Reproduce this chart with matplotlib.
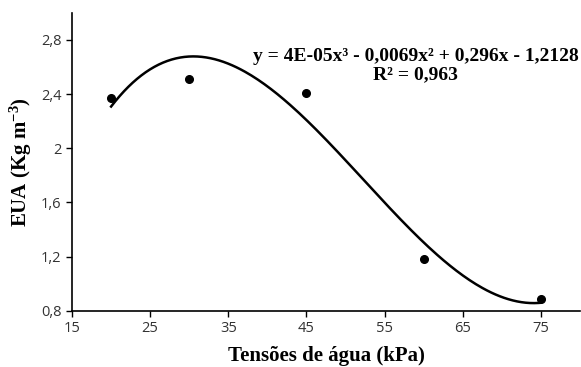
import numpy as np
import matplotlib
matplotlib.use("Agg")
import matplotlib.pyplot as plt

# data
tensao = [20, 30, 45, 60, 75]
eua = [2.37, 2.51, 2.41, 1.18, 0.89]
x_ticks = [15, 25, 35, 45, 55, 65, 75]
y_ticks = [0.8, 1.2, 1.6, 2.0, 2.4, 2.8]
y_tick_labels = ["0,8", "1,2", "1,6", "2", "2,4", "2,8"]
eq_text = "y = 4E-05x³ - 0,0069x² + 0,296x - 1,2128\nR² = 0,963"

plt.rcParams["mathtext.fontset"] = "custom"
plt.rcParams["mathtext.rm"] = "Liberation Serif:bold"
plt.rcParams["mathtext.it"] = "Liberation Serif:bold"
plt.rcParams["mathtext.bf"] = "Liberation Serif:bold"

fig = plt.figure(figsize=(5.81, 3.67), dpi=100)
ax = fig.add_axes([0.124, 0.153, 0.874, 0.812])

# cubic trendline fitted to the points
coef = np.polyfit(tensao, eua, 3)
xs = np.linspace(min(tensao), max(tensao), 200)
ax.plot(xs, np.polyval(coef, xs), color="black", lw=1.8)
ax.plot(tensao, eua, "o", color="black", ms=5.5)

ax.set_xlim(15, 80)
ax.set_ylim(0.8, 3.0)
ax.set_xticks(x_ticks)
ax.set_yticks(y_ticks)
ax.set_yticklabels(y_tick_labels)
for lbl in ax.get_xticklabels() + ax.get_yticklabels():
    lbl.set_fontfamily("Open Sans")
    lbl.set_fontsize(10.5)
    lbl.set_color("#333333")
ax.tick_params(direction="out", length=4, width=1, color="black")

ax.spines["top"].set_visible(False)
ax.spines["right"].set_visible(False)
ax.spines["left"].set_linewidth(1.2)
ax.spines["bottom"].set_linewidth(1.2)

ax.set_xlabel("Tensões de água (kPa)", fontfamily="Liberation Serif",
              fontweight="bold", fontsize=15, labelpad=7)
ax.set_ylabel("EUA (Kg m$^{-3}$)", fontfamily="Liberation Serif",
              fontweight="bold", fontsize=15, labelpad=5)

ax.text(0.677, 0.822, eq_text, transform=ax.transAxes, ha="center", va="center",
        fontfamily="Liberation Serif", fontweight="bold", fontsize=14,
        linespacing=1.1)

fig.savefig("out.png", dpi=100)
